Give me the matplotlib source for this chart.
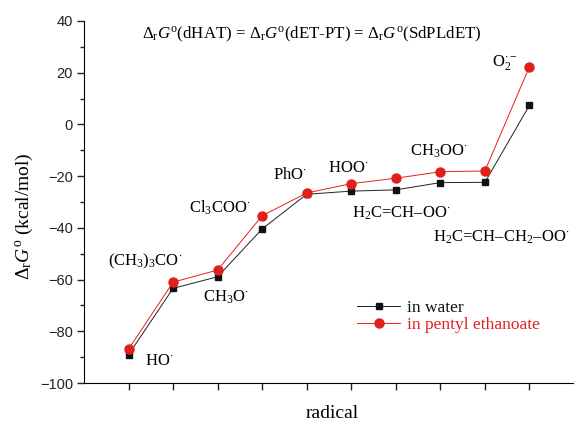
import matplotlib
matplotlib.use('Agg')
import matplotlib.pyplot as plt
from matplotlib.ticker import MultipleLocator

plt.rcParams['mathtext.fontset'] = 'custom'
plt.rcParams['mathtext.rm'] = 'Liberation Serif'
plt.rcParams['mathtext.it'] = 'Liberation Serif:italic'
plt.rcParams['mathtext.bf'] = 'Liberation Serif:bold'

# data
positions = [1, 2, 3, 4, 5, 6, 7, 8, 9, 10]
water = [-89.0, -63.4, -58.9, -40.4, -27.0, -25.8, -25.3, -22.5, -22.4, 7.4]
pentyl = [-86.9, -61.0, -56.3, -35.3, -26.5, -22.9, -20.8, -18.3, -18.0, 22.3]

labels = [r'HO$^{\cdot}$', r'(CH$_3$)$_3$CO$^{\cdot}$', r'CH$_3$O$^{\cdot}$',
          r'Cl$_3$COO$^{\cdot}$', r'PhO$^{\cdot}$', r'HOO$^{\cdot}$',
          r'H$_2$C=CH–OO$^{\cdot}$', r'CH$_3$OO$^{\cdot}$',
          r'H$_2$C=CH–CH$_2$–OO$^{\cdot}$', r'O$_2^{\cdot-}$']
label_x = [1.37, 0.54, 2.67, 2.36, 4.24, 5.47, 6.01, 7.32, 7.83, 9.17]
label_y = [-91.5, -53.1, -66.7, -32.3, -19.6, -16.8, -34.2, -10.5, -43.5, 23.8]

serif = 'Liberation Serif'

fig = plt.figure(figsize=(5.74, 4.21), dpi=100)
ax = fig.add_axes([84/574, 38/421, 490/574, 362/421])

ax.plot(positions, water, color='#222222', lw=0.7, marker='s', ms=5,
        mfc='#111111', mec='#111111', label='in water')
ax.plot(positions, pentyl, color='#e8201c', lw=0.7, marker='o', ms=6.5,
        mfc='#e0201c', mec='#e0201c', label='in pentyl ethanoate')

for t, x, y in zip(labels, label_x, label_y):
    ax.text(x, y, t, fontsize=12, family=serif, ha='left', va='center')

ax.text(1.30, 35.0, r'$\Delta_{\rm r}G^{\rm o}$(dHAT) = $\Delta_{\rm r}G^{\rm o}$(dET-PT) = '
        r'$\Delta_{\rm r}G^{\rm o}$(SdPLdET)', fontsize=12.2, family=serif,
        ha='left', va='center')

ax.set_xlim(0, 11)
ax.set_ylim(-100, 40)
ax.set_xticks(positions)
ax.set_xticklabels([])
ax.yaxis.set_major_locator(MultipleLocator(20))
ax.yaxis.set_minor_locator(MultipleLocator(10))
ax.tick_params(axis='both', which='major', direction='out', length=5, width=1,
               labelsize=10.5, pad=3, colors='#222222')
ax.tick_params(axis='y', which='minor', direction='out', length=3, width=1,
               colors='#222222')
for lbl in ax.get_yticklabels():
    lbl.set_family('Liberation Sans')

ax.spines['top'].set_visible(False)
ax.spines['right'].set_visible(False)

ax.set_xlabel('radical', fontsize=14, family=serif, va='center')
ax.xaxis.set_label_coords(0.506, -0.083)
ax.set_ylabel(r'$\Delta_{\rm r}G^{\rm o}$ (kcal/mol)', fontsize=14,
              family=serif, va='center')
ax.yaxis.set_label_coords(-0.122, 0.461)

leg = ax.legend(loc='upper left', bbox_to_anchor=(357/574, 121/421),
                bbox_transform=fig.transFigure,
                frameon=False, prop={'family': serif, 'size': 12.5},
                handlelength=2.5, handletextpad=0.4, labelspacing=0.05,
                borderpad=0, borderaxespad=0)
for txt, c in zip(leg.get_texts(), ['#111111', '#e0201c']):
    txt.set_color(c)

fig.savefig('out.png', dpi=100)
